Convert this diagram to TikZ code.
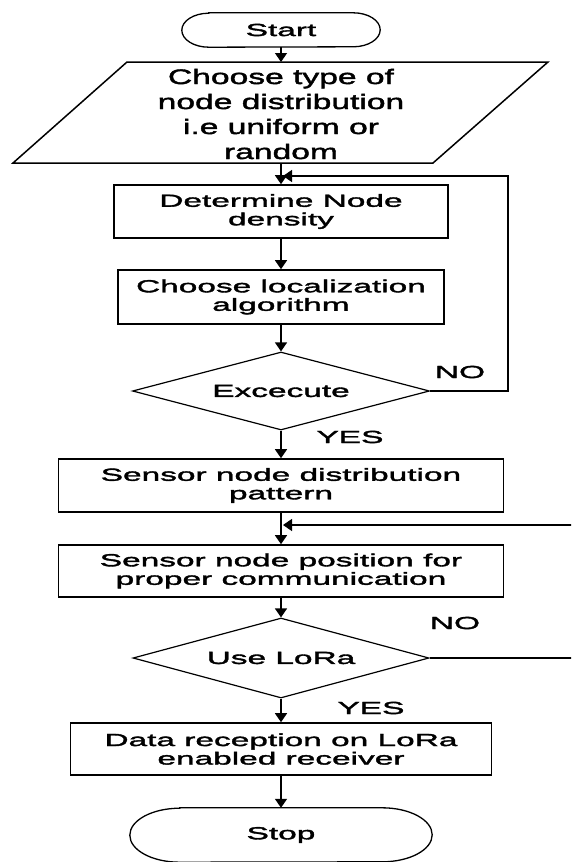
\documentclass[tikz,border=0pt]{standalone}
\usepackage{fontspec}
\setmainfont{Liberation Sans}
\newfontfamily\boxfont[FakeStretch=1.91,FakeBold=2]{Liberation Sans}
\newfontfamily\parfont[FakeStretch=1.6,FakeBold=2]{Liberation Sans}
\usetikzlibrary{shapes.geometric,arrows.meta}
\begin{document}
\begin{tikzpicture}[x=1pt,y=-1pt,
  bfont/.style={font=\boxfont\fontsize{17.5}{18.5}\selectfont},
  box/.style={draw, rectangle, line width=1.6pt, inner sep=0pt, align=center, bfont},
  dec/.style={draw, diamond, line width=1.2pt, inner sep=0pt, align=center, bfont},
  term/.style={draw=none, inner sep=0pt, bfont},
  termline/.style={line width=1.3pt},
  arr/.style={line width=1.4pt, -{Triangle[length=9pt,width=12pt]}},
  lbl/.style={inner sep=0pt, bfont}]
\useasboundingbox (0,0) rectangle (571,862);
\clip (0,0) rectangle (571,862);
\fill[white] (0,0) rectangle (571,862);

% Start
\node[term, minimum width=198pt, minimum height=34pt] (start) at (281,30) {Start};
\draw[termline] ([xshift=27pt]start.north west) -- ([xshift=-27pt]start.north east)
  arc[start angle=90,end angle=-90,x radius=27pt,y radius=17pt]
  -- ([xshift=27pt]start.south west)
  arc[start angle=270,end angle=90,x radius=27pt,y radius=17pt] -- cycle;

% Parallelogram
\draw[line width=1.5pt] (127,62) -- (548,62) -- (433,163) -- (13,163) -- cycle;
\coordinate (parT) at (281,62);
\coordinate (parB) at (281,163);
\node[align=center, inner sep=0pt, font=\parfont\fontsize{21}{25}\selectfont] (par) at (281,114)
  {Choose type of\\node distribution\\i.e uniform or\\random};

% Boxes
\node[box, minimum width=334pt, minimum height=53pt] (b1) at (281,211.5) {Determine Node\\density};
\node[box, minimum width=326pt, minimum height=54pt] (b2) at (281,297) {Choose localization\\algorithm};
\node[dec, aspect=3.81, minimum width=297pt, minimum height=78pt] (d1) at (281,391) {Excecute};
\node[box, minimum width=445pt, minimum height=53pt] (b3) at (281,485.5) {Sensor node distribution\\pattern};
\node[box, minimum width=445pt, minimum height=52pt] (b4) at (281,571) {Sensor node position for\\proper communication};
\node[dec, aspect=3.7, minimum width=296pt, minimum height=80pt] (d2) at (281,658) {Use LoRa};
\node[box, minimum width=421pt, minimum height=52pt] (b5) at (281,749) {Data reception on LoRa\\enabled receiver};

% Stop
\node[term, minimum width=302pt, minimum height=54pt] (stop) at (281,835) {Stop};
\draw[termline] ([xshift=50pt]stop.north west) -- ([xshift=-50pt]stop.north east)
  arc[start angle=90,end angle=-90,x radius=50pt,y radius=27pt]
  -- ([xshift=50pt]stop.south west)
  arc[start angle=270,end angle=90,x radius=50pt,y radius=27pt] -- cycle;

% Labels
\node[lbl] (no1) at (460,372) {NO};
\node[lbl] (yes1) at (350,437) {YES};
\node[lbl] (no2) at (455,623) {NO};
\node[lbl] (yes2) at (371,708) {YES};

% Main flow
\draw[arr] (start.south) -- (parT);
\draw[arr] (parB) -- (b1.north);
\draw[arr] (b1.south) -- (b2.north);
\draw[arr] (b2.south) -- (d1.north);
\draw[arr] (d1.south) -- (b3.north);
\draw[arr] (b3.south) -- (b4.north);
\draw[arr] (b4.south) -- (d2.north);
\draw[arr] (d2.south) -- (b5.north);
\draw[arr] (b5.south) -- (stop.north);

% Feedback loops
\coordinate (fb1) at (283,176);
\coordinate (fb2) at (283,525);
\draw[arr] (d1.east) -- (508,391) -- (508,176) -- (fb1);
\draw[arr] (d2.east) -- (580,658) -- (580,525) -- (fb2);
\end{tikzpicture}
\end{document}
